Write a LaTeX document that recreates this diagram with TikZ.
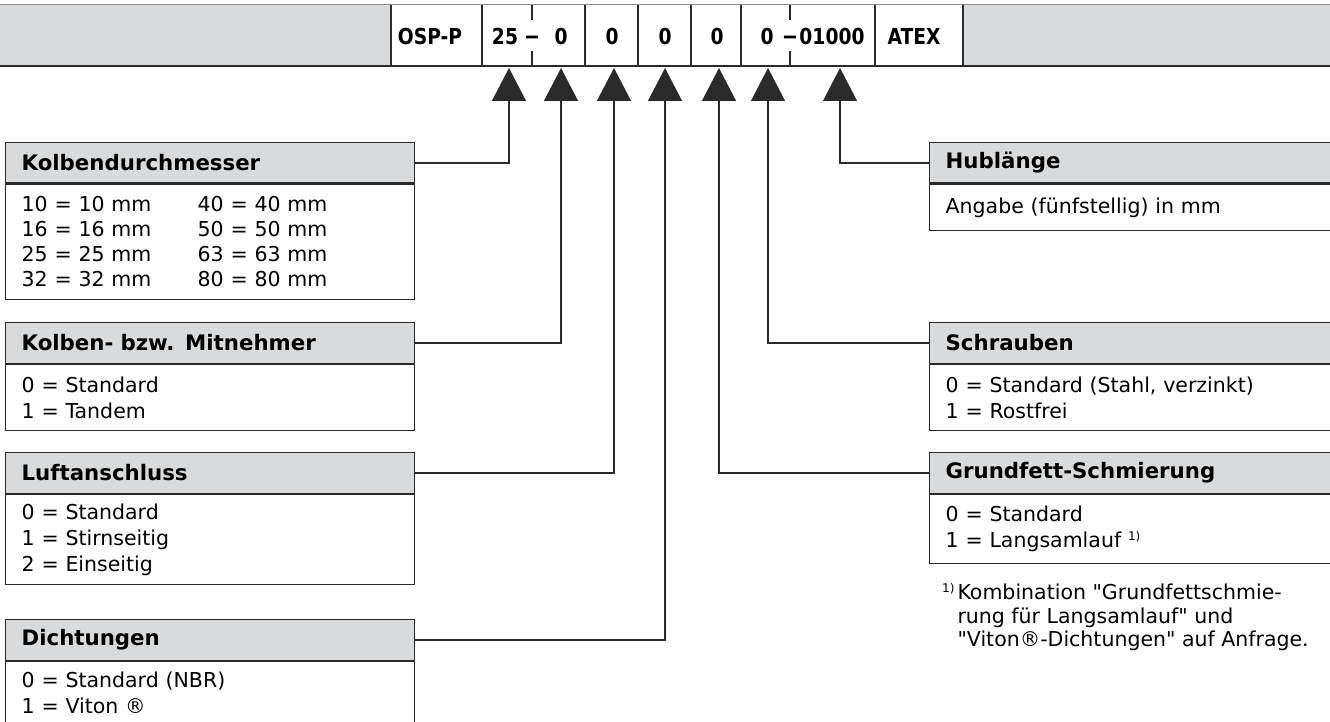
\documentclass[tikz,border=0pt]{standalone}
\usepackage{fontspec}
\usepackage{graphicx}
\setmainfont{DejaVu Sans}
\newfontfamily\plainfont{DejaVu Sans}
\usetikzlibrary{arrows.meta}
\definecolor{hdrgray}{HTML}{D9DADB}
\definecolor{ink}{HTML}{2A2A2A}
\definecolor{topline}{HTML}{8C8C8C}
\newcommand\hdrfont{\fontsize{21.3}{24}\selectfont\bfseries}
\newcommand\bodyfont{\fontsize{20.5}{26}\selectfont}
\newcommand\topfont{\fontsize{22}{26}\selectfont\bfseries}
\newcommand\cond[1]{\scalebox{0.85}[1]{#1}}
\newcommand\fnmark{\raisebox{7pt}{\fontsize{12}{12}\selectfont 1)}}
\newcommand\qq{{\plainfont"}}
\begin{document}
\begin{tikzpicture}[x=1pt,y=-1pt,
  hdr/.style={draw=ink, line width=1.3pt, fill=hdrgray, anchor=north west,
    minimum height=40.5pt, inner xsep=16pt, text width=#1, align=left, font=\hdrfont},
  bdy/.style={draw=ink, line width=1.3pt, fill=white, anchor=north west,
    inner xsep=16pt, text width=#1, align=left, font=\bodyfont},
  cell/.style={font=\topfont, inner sep=0pt},
  sep/.style={draw=ink, line width=1.3pt},
  conn/.style={draw=ink, line width=1.3pt, -{Triangle[length=33pt,width=34pt]}}]
\useasboundingbox (0,0) rectangle (1330,722);

% top bar
\fill[hdrgray] (0,5) rectangle (1330,66);
\fill[white] (391,5) rectangle (963,66);
\draw[topline, line width=1pt] (0,5) -- (1330,5);
\foreach \x in {391,482,585,638,691,741,875,963} \draw[sep] (\x,5) -- (\x,66);
\foreach \x in {532,790} {\draw[sep] (\x,5) -- (\x,20); \draw[sep] (\x,51) -- (\x,66);}
\draw[ink, line width=2.2pt] (0,66) -- (1330,66);

\node[cell] (cosp) at (430,36) {\cond{OSP-P}};
\node[cell] (c25) at (505,36) {\cond{25}};
\node[cell] (d1) at (532,40) {\scalebox{1.4}[1]{–}};
\node[cell] (z1) at (561,36) {\cond{0}};
\node[cell] (z2) at (612,36) {\cond{0}};
\node[cell] (z3) at (665,36) {\cond{0}};
\node[cell] (z4) at (717,36) {\cond{0}};
\node[cell] (z5) at (767,36) {\cond{0}};
\node[cell] (d2) at (790,40) {\scalebox{1.4}[1]{–}};
\node[cell] (cst) at (832,36) {\cond{01000}};
\node[cell] (catex) at (914,36) {\cond{ATEX}};

% arrow tips
\coordinate (t1) at (509,68);
\coordinate (t2) at (561,68);
\coordinate (t3) at (614,68);
\coordinate (t4) at (665,68);
\coordinate (t5) at (719,68);
\coordinate (t6) at (768,68);
\coordinate (t7) at (840,68);

% left boxes
\node[hdr=377pt] (h1) at (5,142) {Kolbendurchmesser};
\node[bdy=377pt, minimum height=115pt, font=\fontsize{20.5}{25}\selectfont] (b1) at (h1.south west)
  {\makebox[176pt][l]{10 = 10 mm}40 = 40 mm\\
   \makebox[176pt][l]{16 = 16 mm}50 = 50 mm\\
   \makebox[176pt][l]{25 = 25 mm}63 = 63 mm\\
   \makebox[176pt][l]{32 = 32 mm}80 = 80 mm};

\node[hdr=377pt] (h2) at (5,322) {Kolben- bzw. Mitnehmer};
\node[bdy=377pt, minimum height=66pt] (b2) at (h2.south west)
  {0 = Standard\\1 = Tandem};

\node[hdr=377pt] (h3) at (5,452) {Luftanschluss};
\node[bdy=377pt, minimum height=90pt] (b3) at (h3.south west)
  {0 = Standard\\1 = Stirnseitig\\2 = Einseitig};

\node[hdr=377pt] (h4) at (5,619) {Dichtungen};
\node[bdy=377pt, minimum height=62pt] (b4) at (h4.south west)
  {0 = Standard (NBR)\\1 = Viton ®};

% right boxes
\node[hdr=379pt] (h5) at (929,142) {Hublänge};
\node[bdy=379pt, minimum height=46pt] (b5) at (h5.south west)
  {Angabe (fünfstellig) in mm};

\node[hdr=379pt] (h6) at (929,322) {Schrauben};
\node[bdy=379pt, minimum height=66pt] (b6) at (h6.south west)
  {0 = Standard (Stahl, verzinkt)\\1 = Rostfrei};

\node[hdr=379pt] (h7) at (929,452) {Grundfett-Schmierung};
\node[bdy=379pt, minimum height=69pt] (b7) at (h7.south west)
  {0 = Standard\\1 = Langsamlauf \fnmark};

\node[anchor=north west, inner sep=0pt, font=\fontsize{20.5}{23.5}\selectfont] (fn) at (942,583)
  {\begin{tabular}{@{}l@{\hspace{3pt}}l@{}}
   \fnmark & Kombination \qq Grundfettschmie-\\
   & rung für Langsamlauf\qq\ und\\
   & \qq Viton®-Dichtungen\qq\ auf Anfrage.
   \end{tabular}};

% connectors
\draw[conn] (h1.east) -| (t1);
\draw[conn] (h2.east) -| (t2);
\draw[conn] (h3.east) -| (t3);
\draw[conn] (h4.east) -| (t4);
\draw[conn] (h7.west) -| (t5);
\draw[conn] (h6.west) -| (t6);
\draw[conn] (h5.west) -| (t7);
\end{tikzpicture}
\end{document}
